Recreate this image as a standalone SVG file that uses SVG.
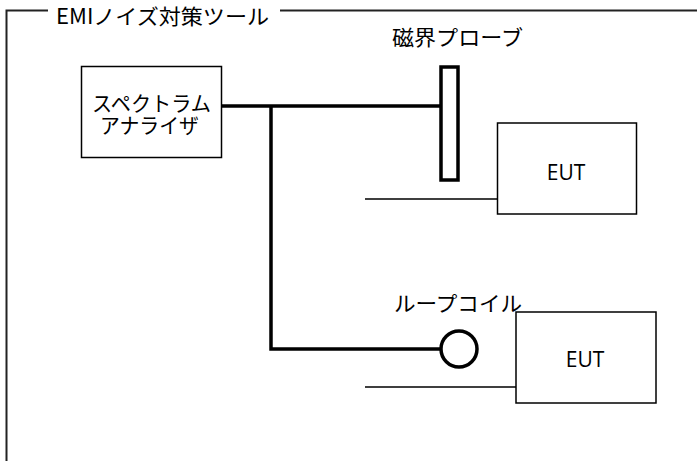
<svg xmlns="http://www.w3.org/2000/svg" width="697" height="461" viewBox="0 0 697 461">
<style>
.t{font-family:"Noto Sans CJK JP","Noto Sans",sans-serif;font-size:21px;fill:#000}
.e{font-family:"Open Sans","Noto Sans",sans-serif;font-size:21px;fill:#000;text-anchor:middle}
.box{fill:#fff;stroke:#000;stroke-width:1.5}
.thick{fill:none;stroke:#000;stroke-width:3.5}
.thin{fill:none;stroke:#000;stroke-width:1.3}
</style>
<rect width="697" height="461" fill="#fff"/>
<g id="frame">
<path d="M48 10.5 H6.5 V461 M280 10.5 H697" fill="none" stroke="#222" stroke-width="2"/>
<text class="t" x="56" y="24" textLength="213" lengthAdjust="spacingAndGlyphs">EMIノイズ対策ツール</text>
</g>
<g id="connectors">
<path class="thick" d="M221 106 H441 M271 106 V349 H441"/>
<path class="thin" d="M365 199 H497 M365 387 H516"/>
</g>
<g id="analyzer">
<rect class="box" x="81.5" y="66.5" width="140" height="91"/>
<text class="t" x="92" y="111" textLength="119" lengthAdjust="spacingAndGlyphs">スペクトラム</text>
<text class="t" x="100" y="133" textLength="99" lengthAdjust="spacingAndGlyphs">アナライザ</text>
</g>
<g id="probe">
<rect x="441" y="67" width="17" height="113" fill="#fff" stroke="#000" stroke-width="3.5"/>
<text class="t" x="392" y="45" textLength="131" lengthAdjust="spacingAndGlyphs">磁界プローブ</text>
</g>
<g id="eut1">
<rect class="box" x="497.5" y="123" width="139" height="91"/>
<text class="e" x="566" y="180">EUT</text>
</g>
<g id="loop">
<circle cx="459" cy="349" r="18" fill="#fff" stroke="#000" stroke-width="3.5"/>
<text class="t" x="394" y="311" textLength="128" lengthAdjust="spacingAndGlyphs">ループコイル</text>
</g>
<g id="eut2">
<rect class="box" x="516" y="312" width="140" height="91"/>
<text class="e" x="585" y="367">EUT</text>
</g>
</svg>
